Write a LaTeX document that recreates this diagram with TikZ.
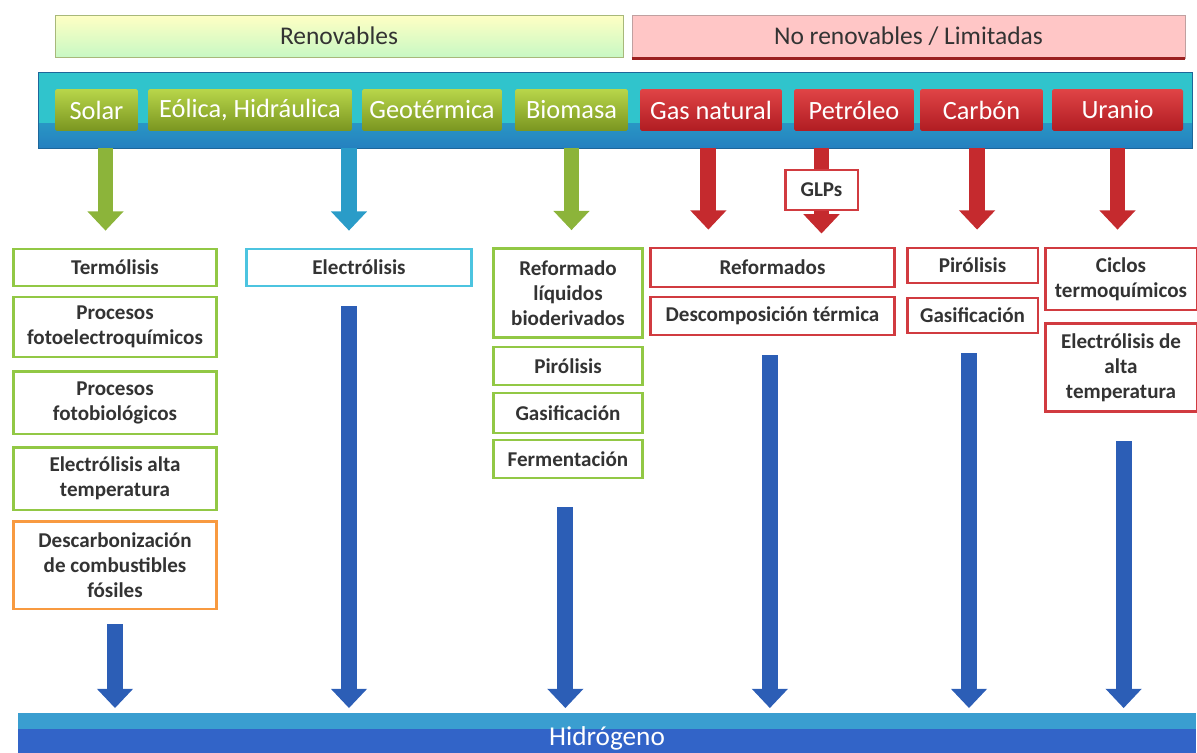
\documentclass[tikz,border=0pt]{standalone}
\usepackage{fontspec}
\setmainfont{Carlito}
\usetikzlibrary{arrows.meta}

\definecolor{renT}{HTML}{FFFFC4}
\definecolor{renB}{HTML}{C8F8C4}
\definecolor{renD}{HTML}{A8B87A}
\definecolor{noren}{HTML}{FFC6C6}
\definecolor{norenD}{HTML}{C0A0A0}
\definecolor{norenL}{HTML}{9B2020}
\definecolor{bandT}{HTML}{30C4CC}
\definecolor{bandB}{HTML}{2580C0}
\definecolor{keyGT}{HTML}{B8D64A}
\definecolor{keyGB}{HTML}{7A9520}
\definecolor{keyRT}{HTML}{E04446}
\definecolor{keyRB}{HTML}{B01C22}
\definecolor{boxG}{HTML}{92C845}
\definecolor{boxC}{HTML}{4CC4E0}
\definecolor{boxR}{HTML}{D13B40}
\definecolor{boxO}{HTML}{F89A40}
\definecolor{arrG}{HTML}{8CB43A}
\definecolor{arrC}{HTML}{2A9CC8}
\definecolor{arrR}{HTML}{C52A2E}
\definecolor{arrB}{HTML}{2C5EB6}
\definecolor{hydT}{HTML}{3A9ED0}
\definecolor{hydB}{HTML}{3264C8}

\begin{document}
\begin{tikzpicture}[x=0.02cm, y=-0.02cm,
    TB/.style={inner sep=0pt, text=black!80,
        font=\fontsize{14.5}{16}\selectfont},
    key/.style={inner sep=0pt, minimum height=0.84cm, text=white,
        rounded corners=1pt, font=\fontsize{15}{17}\selectfont},
    GK/.style={key, top color=keyGT, bottom color=keyGB},
    RK/.style={key, top color=keyRT, bottom color=keyRB},
    box/.style={draw, fill=white, line width=1.7pt, inner sep=0pt,
        align=center, text=black!80,
        font=\fontsize{12}{14.2}\selectfont\bfseries},
    GB/.style={box, draw=boxG},
    CB/.style={box, draw=boxC},
    RB/.style={box, draw=boxR},
    OB/.style={box, draw=boxO},
    fat/.style={line width=9pt, -{Triangle[width=20pt,length=11pt]}},
    GA/.style={fat, draw=arrG},
    CA/.style={fat, draw=arrC},
    RA/.style={fat, draw=arrR},
    BA/.style={fat, draw=arrB}]
    \useasboundingbox (0,0) rectangle (1197,753);

    % fuentes
    \node[TB, top color=renT, bottom color=renB, draw=renD,
        minimum width=11.36cm, minimum height=0.84cm] (renov) at (339,36)
        {Renovables};
    \node[TB, fill=noren, draw=norenD,
        minimum width=11.06cm, minimum height=0.86cm] (noren) at (908.5,36.5)
        {No renovables / Limitadas};
    \draw[norenL, line width=1.5pt] (noren.south west) -- (noren.south east);

    \node[fill=bandT, draw=bandB!80!black,
        minimum width=23.08cm, minimum height=1.52cm,
        path picture={\fill[top color=bandT, bottom color=bandB]
            ([yshift=14pt]path picture bounding box.south west)
            rectangle (path picture bounding box.south east);}]
        (band) at (615,110) {};
    \node[GK, minimum width=1.66cm] (solar) at (96.5,110) {Solar};
    \node[GK, minimum width=4.08cm] (eolica) at (250,110) {Eólica, Hidráulica};
    \node[GK, minimum width=2.8cm] (geo) at (432,110) {Geotérmica};
    \node[GK, minimum width=2.26cm] (bio) at (571.5,110) {Biomasa};
    \node[RK, minimum width=2.84cm] (gas) at (711,110) {Gas natural};
    \node[RK, minimum width=2.4cm] (petro) at (854,110) {Petróleo};
    \node[RK, minimum width=2.46cm] (carbon) at (981.5,110) {Carbón};
    \node[RK, minimum width=2.62cm] (uranio) at (1117.5,110) {Uranio};

    % procesos
    \node[GB, minimum width=4.08cm, minimum height=0.74cm] (termo) at (115,267.5)
        {Termólisis};
    \node[GB, minimum width=4.08cm, minimum height=1.2cm] (fotoel) at (115,327)
        {Procesos\\fotoelectroquímicos};
    \node[GB, minimum width=4.08cm, minimum height=1.26cm] (fotobio) at (115,402.5)
        {Procesos\\fotobiológicos};
    \node[GB, minimum width=4.08cm, minimum height=1.26cm] (elecat) at (115,478.5)
        {Electrólisis alta\\temperatura};
    \node[OB, minimum width=4.08cm, minimum height=1.76cm] (descarb) at (115,565)
        {Descarbonización\\de combustibles\\fósiles};

    \node[CB, minimum width=4.52cm, minimum height=0.74cm] (electro) at (359,267.5)
        {Electrólisis};

    \node[GB, minimum width=3cm, minimum height=1.78cm] (reflq) at (568,293)
        {Reformado\\líquidos\\bioderivados};
    \node[GB, minimum width=3cm, minimum height=0.76cm] (piro1) at (568,366)
        {Pirólisis};
    \node[GB, minimum width=3cm, minimum height=0.8cm] (gasif1) at (568,413)
        {Gasificación};
    \node[GB, minimum width=3cm, minimum height=0.76cm] (ferm) at (568,459)
        {Fermentación};

    \node[RB, minimum width=1.46cm, minimum height=0.8cm] (glp) at (821.5,190)
        {GLPs};
    \node[RB, minimum width=4.9cm, minimum height=0.78cm] (reform) at (772.5,267.5)
        {Reformados};
    \node[RB, minimum width=4.9cm, minimum height=0.76cm] (descomp) at (772.5,316)
        {Descomposición térmica};

    \node[RB, minimum width=2.62cm, minimum height=0.7cm] (piro2) at (972.5,265.5)
        {Pirólisis};
    \node[RB, minimum width=2.62cm, minimum height=0.7cm] (gasif2) at (972.5,315.5)
        {Gasificación};

    \node[RB, minimum width=3.04cm, minimum height=1.24cm] (ciclos) at (1121,279)
        {Ciclos\\termoquímicos};
    \node[RB, minimum width=3.04cm, minimum height=1.78cm] (elecda) at (1121,367.5)
        {Electrólisis de\\alta\\temperatura};

    \node[fill=hydB, minimum width=23.56cm, minimum height=1cm,
        text=white, anchor=north, font=\fontsize{15.5}{17}\selectfont,
        path picture={\fill[hydT] (path picture bounding box.north west)
            rectangle ([yshift=-9pt]path picture bounding box.north east);}]
        (hidro) at (607,713) {Hidrógeno};

    % flechas
    \draw[GA, shorten >=9.6pt] ([xshift=-5.4pt]termo.north |- band.south)
        -- ([xshift=-5.4pt]termo.north);
    \draw[CA, shorten >=9.6pt] ([xshift=-5.7pt]electro.north |- band.south)
        -- ([xshift=-5.7pt]electro.north);
    \draw[GA, shorten >=9.6pt] (bio |- band.south) -- (bio |- reflq.north);
    \draw[RA, shorten >=9.6pt] ([xshift=-1.5pt]gas.south |- band.south)
        -- ([xshift=-1.5pt]gas.south |- reform.north);
    \draw[arrR, line width=9pt] (glp |- band.south) -- (glp.north);
    \draw[RA, shorten >=7.4pt] (glp.south) -- (glp |- reform.north);
    \draw[RA, shorten >=9.6pt] ([xshift=-2.5pt]carbon.south |- band.south)
        -- ([xshift=-2.5pt]carbon.south |- piro2.north);
    \draw[RA, shorten >=9.6pt] (uranio |- band.south) -- (uranio |- ciclos.north);

    \draw[BA, shorten <=7.9pt, shorten >=2.8pt] (descarb.south)
        -- (descarb.south |- hidro.north);
    \draw[BA, shorten <=10.8pt, shorten >=2.8pt] ([xshift=-5.7pt]electro.south)
        -- ([xshift=-5.7pt]electro.south |- hidro.north);
    \draw[BA, shorten <=15.9pt, shorten >=2.8pt] ([xshift=-1.5pt]ferm.south)
        -- ([xshift=-1.5pt]ferm.south |- hidro.north);
    \draw[BA, shorten <=10.8pt, shorten >=2.8pt] ([xshift=-1.5pt]descomp.south)
        -- ([xshift=-1.5pt]descomp.south |- hidro.north);
    \draw[BA, shorten <=10.8pt, shorten >=2.8pt] ([xshift=-2pt]gasif2.south)
        -- ([xshift=-2pt]gasif2.south |- hidro.north);
    \draw[BA, shorten <=15.9pt, shorten >=2.8pt] ([xshift=1.5pt]elecda.south)
        -- ([xshift=1.5pt]elecda.south |- hidro.north);
\end{tikzpicture}
\end{document}
